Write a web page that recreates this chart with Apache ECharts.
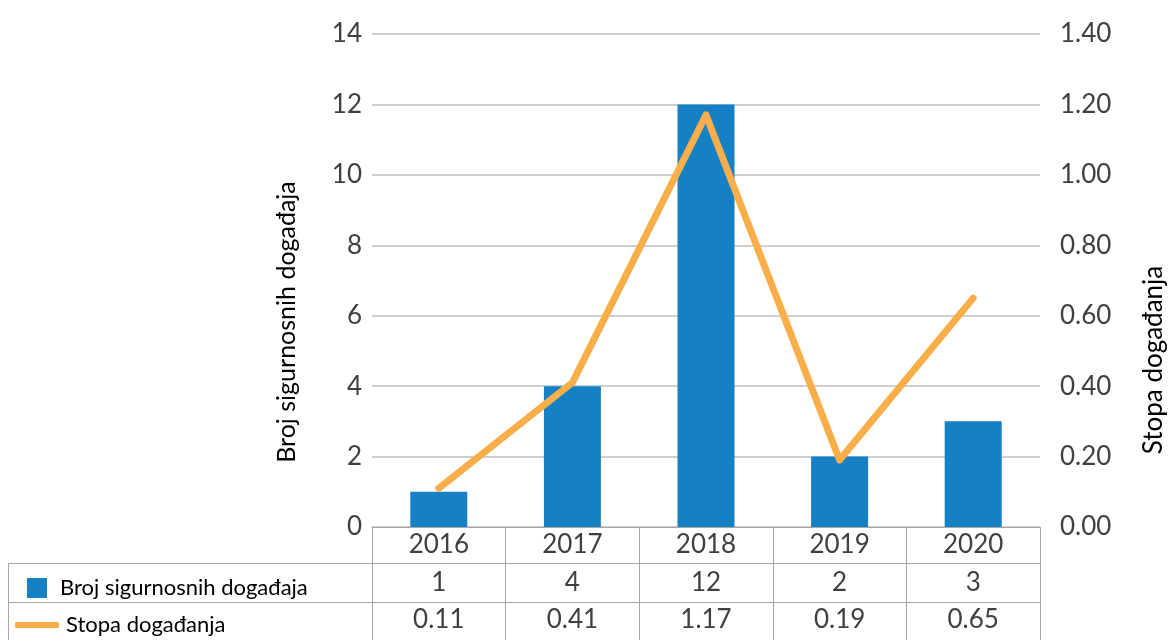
<!DOCTYPE html>
<html>
<head>
<meta charset="utf-8">
<script src="https://cdn.jsdelivr.net/npm/echarts@6/dist/echarts.min.js"></script>
<style>
  html, body { margin: 0; padding: 0; background: #fff; }
  #main { width: 1174px; height: 640px; }
</style>
</head>
<body>
<div id="main"></div>
<script>
// data
var years = ['2016', '2017', '2018', '2019', '2020']
var counts = [1, 4, 12, 2, 3]
var rates = [0.11, 0.41, 1.17, 0.19, 0.65]
var countName = 'Broj sigurnosnih događaja'
var rateName = 'Stopa događanja'

var font = 'Lato'
var tableLine = '#a6a6a6'
var textColor = '#404040'

var myChart = echarts.init(document.getElementById('main'))

// x axis helpers - one per table row
function rowAxis(offset, margin, values, fmt) {
    return {
        type: 'category',
        data: years,
        position: 'bottom',
        offset: offset,
        axisLine: { show: true, onZero: false, lineStyle: { color: tableLine, width: 1 } },
        axisTick: { show: false },
        axisLabel: {
            margin: margin,
            fontFamily: font,
            fontSize: 26,
            color: textColor,
            formatter: function (v, i) { return fmt(values[i]) }
        }
    }
}

var option = {
    animation: false,
    grid: { left: 372, right: 134, top: 34, bottom: 113, containLabel: false },
    legend: [
        {
            left: 22, top: 572,
            itemWidth: 20, itemHeight: 20,
            data: [{ name: countName, icon: 'rect' }],
            textStyle: { fontFamily: font, fontSize: 22, color: '#000', padding: [0, 0, 0, 8] },
            selectedMode: false
        },
        {
            left: 10, top: 609,
            itemWidth: 44, itemHeight: 6,
            data: [{ name: rateName, icon: 'roundRect' }],
            textStyle: { fontFamily: font, fontSize: 22, color: '#000', padding: [0, 0, 0, 2] },
            selectedMode: false
        }
    ],
    xAxis: [
        {
            type: 'category',
            data: years,
            axisLine: { show: true, onZero: false, lineStyle: { color: tableLine, width: 1 } },
            axisTick: { show: true, inside: false, length: 113, lineStyle: { color: tableLine } },
            axisLabel: { margin: 5, fontFamily: font, fontSize: 26, color: textColor }
        },
        rowAxis(36, 7, counts, function (v) { return String(v) }),
        rowAxis(75, 5, rates, function (v) { return v.toFixed(2) })
    ],
    yAxis: [
        {
            type: 'value',
            min: 0, max: 14, interval: 2,
            axisLine: { show: false },
            axisTick: { show: false },
            splitLine: { lineStyle: { color: '#bfbfbf', width: 1.5 } },
            axisLabel: { margin: 10, fontFamily: font, fontSize: 26, color: textColor }
        },
        {
            type: 'value',
            min: 0, max: 1.4, interval: 0.2,
            position: 'right',
            axisLine: { show: false },
            axisTick: { show: false },
            splitLine: { show: false },
            axisLabel: {
                margin: 20, fontFamily: font, fontSize: 26, color: textColor,
                formatter: function (v) { return v.toFixed(2) }
            }
        }
    ],
    series: [
        {
            name: countName,
            type: 'bar',
            data: counts,
            barWidth: 57,
            itemStyle: { color: '#1580c4' }
        },
        {
            name: rateName,
            type: 'line',
            yAxisIndex: 1,
            data: rates,
            showSymbol: false,
            symbol: 'none',
            lineStyle: { color: '#f9ae4a', width: 7, cap: 'round', join: 'round' },
            itemStyle: { color: '#f9ae4a' },
            z: 5
        }
    ],
    graphic: [
        // table borders left of the plot
        { type: 'line', shape: { x1: 8, y1: 563.5, x2: 372, y2: 563.5 }, style: { stroke: tableLine, lineWidth: 1 } },
        { type: 'line', shape: { x1: 8, y1: 602.5, x2: 372, y2: 602.5 }, style: { stroke: tableLine, lineWidth: 1 } },
        { type: 'line', shape: { x1: 8.5, y1: 563, x2: 8.5, y2: 640 }, style: { stroke: tableLine, lineWidth: 1 } },
        // axis names
        {
            type: 'text', x: 287, y: 322, rotation: Math.PI / 2,
            style: { text: countName, fontFamily: font, fontSize: 25, fill: '#000', textAlign: 'center', textVerticalAlign: 'middle' }
        },
        {
            type: 'text', x: 1154, y: 360, rotation: Math.PI / 2,
            style: { text: rateName, fontFamily: font, fontSize: 26, fill: '#000', textAlign: 'center', textVerticalAlign: 'middle' }
        }
    ]
}

myChart.setOption(option)
</script>
</body>
</html>
